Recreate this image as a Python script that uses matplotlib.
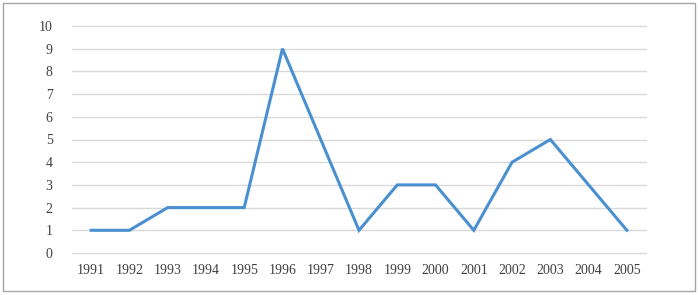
import matplotlib.pyplot as plt
from matplotlib.patches import Rectangle

# data
years = ["1991", "1992", "1993", "1994", "1995", "1996", "1997", "1998",
         "1999", "2000", "2001", "2002", "2003", "2004", "2005"]
counts = [1, 1, 2, 2, 2, 9, 5, 1, 3, 3, 1, 4, 5, 3, 1]
yticks = list(range(0, 11))

plt.rcParams["font.family"] = ["Liberation Serif", "DejaVu Serif"]

W, H = 698, 295
fig = plt.figure(figsize=(W / 100, H / 100), dpi=100)

# outer frame
fig.patches.append(Rectangle((3 / W, 4 / H), 692 / W, 288 / H, transform=fig.transFigure,
                             fill=False, edgecolor="#a6a6a6", linewidth=1.0))

ax = fig.add_axes([72 / W, 1 - 253 / H, (646 - 72) / W, (253 - 26) / H])
x = range(len(years))
ax.plot(x, counts, color="#4a90d0", linewidth=2.2, solid_joinstyle="miter", zorder=3)

ax.set_xlim(-0.5, len(years) - 0.5)
ax.set_ylim(0, 10)
ax.set_yticks(yticks)
ax.set_xticks(list(x))
ax.set_xticklabels(years)
for yv in yticks:
    ax.axhline(yv, color="#d9d9d9", linewidth=1.0, clip_on=False, zorder=1)
for s in ax.spines.values():
    s.set_visible(False)
ax.tick_params(length=0, labelsize=10, labelcolor="#404040")
ax.tick_params(axis="y", pad=14)
ax.tick_params(axis="x", pad=8)

fig.savefig("out.png", dpi=100)
